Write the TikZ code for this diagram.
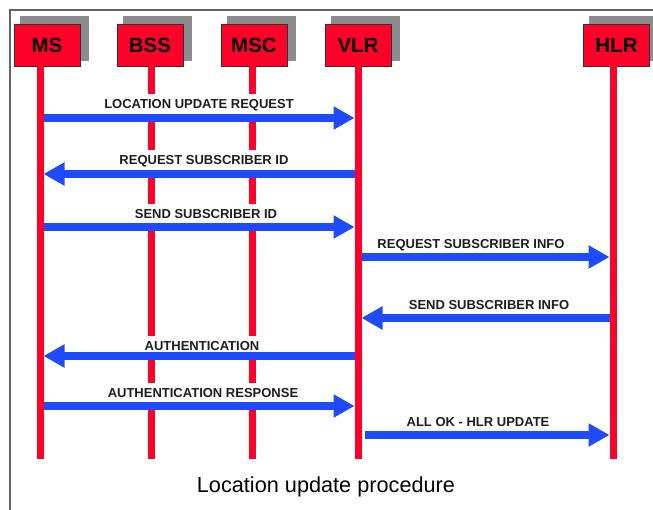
\documentclass[tikz,border=0pt]{standalone}
\usepackage{fontspec}
\setmainfont{Liberation Sans}
\usetikzlibrary{arrows.meta,backgrounds}
\definecolor{boxred}{RGB}{255,0,40}
\definecolor{msgblue}{RGB}{30,75,255}
\definecolor{shadowgray}{RGB}{140,140,140}
\definecolor{framegray}{RGB}{100,100,100}
\definecolor{labelink}{RGB}{30,30,30}

\begin{document}
\begin{tikzpicture}[x=1pt,y=-1pt,
  entity/.style={draw=black!80, line width=0.8pt, fill=boxred, minimum width=66pt,
    minimum height=42pt, inner sep=0pt, font=\fontsize{20.5}{22}\selectfont\bfseries},
  boxshadow/.style={fill=shadowgray},
  lifeline/.style={draw=boxred, line width=7pt},
  msg/.style={draw=msgblue, line width=7.5pt, -{Triangle[length=21pt,width=22pt]},
    shorten <=3.5pt, shorten >=3.5pt},
  lbl/.style={fill=white, text=labelink, inner xsep=2.5pt, inner ysep=5pt,
    text height=9.3pt, text depth=0pt, font=\fontsize{13}{14}\selectfont\bfseries},
  caption/.style={font=\fontsize{21.7}{24}\selectfont},
  ]
\useasboundingbox (0,0) rectangle (653,510);

% entities
\node[entity] (ms)  at (47,45)    {MS};
\node[entity] (bss) at (150,45)   {BSS};
\node[entity] (msc) at (254,45)   {MSC};
\node[entity] (vlr) at (358,45)   {VLR};
\node[entity] (hlr) at (616.5,45) {HLR};

\begin{pgfonlayer}{background}
  \draw[framegray, line width=1.5pt] (10,515) -- (10,10) -- (660,10);
  \foreach \e in {ms,bss,msc,vlr,hlr}
    \fill[boxshadow] ([shift={(6,-8)}]\e.north west) rectangle ([shift={(9,-5)}]\e.south east);
\end{pgfonlayer}

% lifeline positions
\coordinate (msx)  at (40,0);
\coordinate (bssx) at (151,0);
\coordinate (mscx) at (252,0);
\coordinate (vlrx) at (358,0);
\coordinate (hlrx) at (613,0);
\coordinate (bottom) at (0,459);

\draw[lifeline] (ms.south -| msx)   -- (msx |- bottom);
\draw[lifeline] (bss.south -| bssx) -- (bssx |- bottom);
\draw[lifeline] (msc.south -| mscx) -- (mscx |- bottom);
\draw[lifeline] (vlr.south -| vlrx) -- (vlrx |- bottom);
\draw[lifeline] (hlr.south -| hlrx) -- (hlrx |- bottom);

% message rows
\coordinate (r1) at (0,118);
\coordinate (r2) at (0,174);
\coordinate (r3) at (0,227);
\coordinate (r4) at (0,257);
\coordinate (r5) at (0,318);
\coordinate (r6) at (0,356);
\coordinate (r7) at (0,406);
\coordinate (r8) at (0,435);

% message labels
\node[lbl] (l1) at (199,104) {LOCATION UPDATE REQUEST};
\node[lbl] (l2) at (204,160) {REQUEST SUBSCRIBER ID};
\node[lbl] (l3) at (206,214) {SEND SUBSCRIBER ID};
\node[lbl] (l4) at (471,244) {REQUEST SUBSCRIBER INFO};
\node[lbl] (l5) at (489,305) {SEND SUBSCRIBER INFO};
\node[lbl] (l6) at (202,346) {AUTHENTICATION};
\node[lbl] (l7) at (203,393) {AUTHENTICATION RESPONSE};
\node[lbl] (l8) at (478,422) {ALL OK - HLR UPDATE};

% messages
\draw[msg] (msx |- r1)  -- (vlrx |- r1);
\draw[msg] (vlrx |- r2) -- (msx |- r2);
\draw[msg] (msx |- r3)  -- (vlrx |- r3);
\draw[msg] (vlrx |- r4) -- (hlrx |- r4);
\draw[msg] (hlrx |- r5) -- (vlrx |- r5);
\draw[msg] (vlrx |- r6) -- (msx |- r6);
\draw[msg] (msx |- r7)  -- (vlrx |- r7);
\draw[msg, shorten <=7pt] (vlrx |- r8) -- (hlrx |- r8);

\node[caption] (cap) at (326,487) {Location update procedure};
\end{tikzpicture}
\end{document}
